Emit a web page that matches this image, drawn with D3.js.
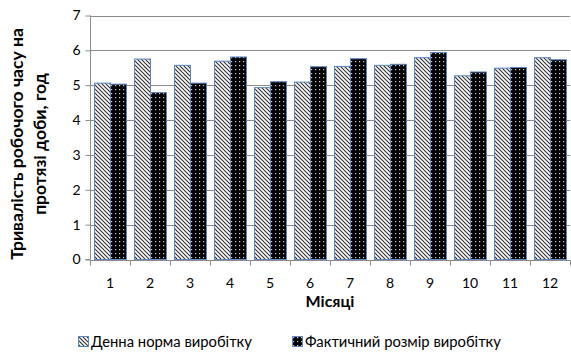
<!DOCTYPE html>
<html>
<head>
<meta charset="utf-8">
<script src="https://cdn.jsdelivr.net/npm/d3@7"></script>
<style>
  html, body { margin: 0; padding: 0; background: #fff; }
  svg { display: block; font-family: Lato, "Open Sans", sans-serif; }
</style>
</head>
<body>
<svg id="chart" width="571" height="354"></svg>
<script>
// Months and working-time durations (hours per day)
const months = ["1", "2", "3", "4", "5", "6", "7", "8", "9", "10", "11", "12"];
const dailyNorm = [5.06, 5.75, 5.57, 5.69, 4.93, 5.09, 5.54, 5.57, 5.79, 5.27, 5.49, 5.79];
const actualSize = [5.03, 4.79, 5.06, 5.81, 5.10, 5.53, 5.76, 5.60, 5.94, 5.38, 5.51, 5.73];
const seriesNames = ["Денна норма виробітку", "Фактичний розмір виробітку"];
const yTicks = [0, 1, 2, 3, 4, 5, 6, 7];

const svg = d3.select("#chart");
const x0 = 90, x1 = 570;
const yTop = 15.5, yBottom = 259.5;

// pattern fills
const defs = svg.append("defs");
const hatch = defs.append("pattern")
  .attr("id", "hatch").attr("patternUnits", "userSpaceOnUse")
  .attr("width", 4).attr("height", 4);
hatch.append("rect").attr("width", 4).attr("height", 4).attr("fill", "#fff");
hatch.append("path")
  .attr("d", "M-1,-1 L5,5 M3,-1 L5,1 M-1,3 L1,5")
  .attr("stroke", "#333").attr("stroke-width", 1.15);

const dots = defs.append("pattern")
  .attr("id", "dots").attr("patternUnits", "userSpaceOnUse")
  .attr("width", 4).attr("height", 4);
dots.append("rect").attr("width", 4).attr("height", 4).attr("fill", "#000");
dots.append("rect").attr("x", 1).attr("y", 1).attr("width", 1.2).attr("height", 1.2).attr("fill", "#ccc");

const fills = ["url(#hatch)", "url(#dots)"];

const x = d3.scaleBand().domain(months).range([x0, x1]);
const xs = d3.scaleBand().domain([0, 1]).range([0, x.bandwidth()]).paddingInner(0).paddingOuter(0.25);
const y = d3.scaleLinear().domain([0, 7]).range([yBottom, yTop]);

// gridlines
svg.append("g").selectAll("line").data(yTicks.filter(d => d > 0)).join("line")
  .attr("x1", x0).attr("x2", x1)
  .attr("y1", d => Math.round(y(d)) + 0.5).attr("y2", d => Math.round(y(d)) + 0.5)
  .attr("stroke", "#8c8c8c").attr("stroke-width", 1);

// bars
const groups = svg.append("g").selectAll("g").data(months).join("g")
  .attr("transform", d => `translate(${x(d)},0)`);
groups.selectAll("rect").data((d, i) => [dailyNorm[i], actualSize[i]]).join("rect")
  .attr("x", (d, j) => xs(j) + 0.5)
  .attr("width", xs.bandwidth())
  .attr("y", d => y(d))
  .attr("height", d => y(0) - y(d))
  .attr("fill", (d, j) => fills[j])
  .attr("stroke", "#5a87c5").attr("stroke-width", 1);

// y axis
const yAxis = d3.axisLeft(y).tickValues(yTicks).tickSize(5).tickPadding(5).tickFormat(d3.format("d"));
const gy = svg.append("g").attr("transform", `translate(${x0 + 0.5},0)`).call(yAxis);
gy.select(".domain").attr("stroke", "#8c8c8c").attr("d", `M-5,${yBottom}H0V${yTop}`);
gy.selectAll(".tick line").attr("stroke", "#8c8c8c");
gy.selectAll(".tick text").attr("font-size", 14).attr("fill", "#000")
  .attr("font-family", "Lato, 'Open Sans', sans-serif");

// x axis with ticks on category boundaries
const gx = svg.append("g").attr("transform", `translate(0,${Math.round(yBottom) + 0.5})`);
gx.append("line").attr("x1", x0).attr("x2", x1).attr("stroke", "#8c8c8c");
gx.selectAll("line.tk").data(months.concat(["end"])).join("line").attr("class", "tk")
  .attr("x1", (d, i) => Math.round(i < months.length ? x(d) : x1) + 0.5)
  .attr("x2", (d, i) => Math.round(i < months.length ? x(d) : x1) + 0.5)
  .attr("y1", 0).attr("y2", 5).attr("stroke", "#8c8c8c");
gx.selectAll("text").data(months).join("text")
  .attr("x", d => x(d) + x.bandwidth() / 2)
  .attr("y", 27)
  .attr("text-anchor", "middle").attr("font-size", 14).attr("fill", "#000")
  .text(d => d);

// axis titles
svg.append("text")
  .attr("x", 330).attr("y", 307)
  .attr("text-anchor", "middle").attr("font-size", 16).attr("font-weight", "bold")
  .text("Місяці");

const yt = svg.append("text")
  .attr("transform", "translate(0,144) rotate(-90)")
  .attr("text-anchor", "middle").attr("font-size", 17.5).attr("font-weight", "bold");
yt.append("tspan").attr("x", 0).attr("y", 23).text("Тривалість робочого часу на");
yt.append("tspan").attr("x", 0).attr("y", 46).text("протязі доби, год");

// legend
const legendX = [78, 292];
const lg = svg.append("g").selectAll("g").data(seriesNames).join("g")
  .attr("transform", (d, i) => `translate(${legendX[i]},336)`);
lg.append("rect").attr("x", 0.5).attr("y", 0.5).attr("width", 10).attr("height", 10)
  .attr("fill", (d, i) => fills[i]).attr("stroke", "#5a87c5");
lg.append("text").attr("x", 13).attr("y", 10.5).attr("font-size", 14.8).attr("fill", "#000")
  .text(d => d);
</script>
</body>
</html>
